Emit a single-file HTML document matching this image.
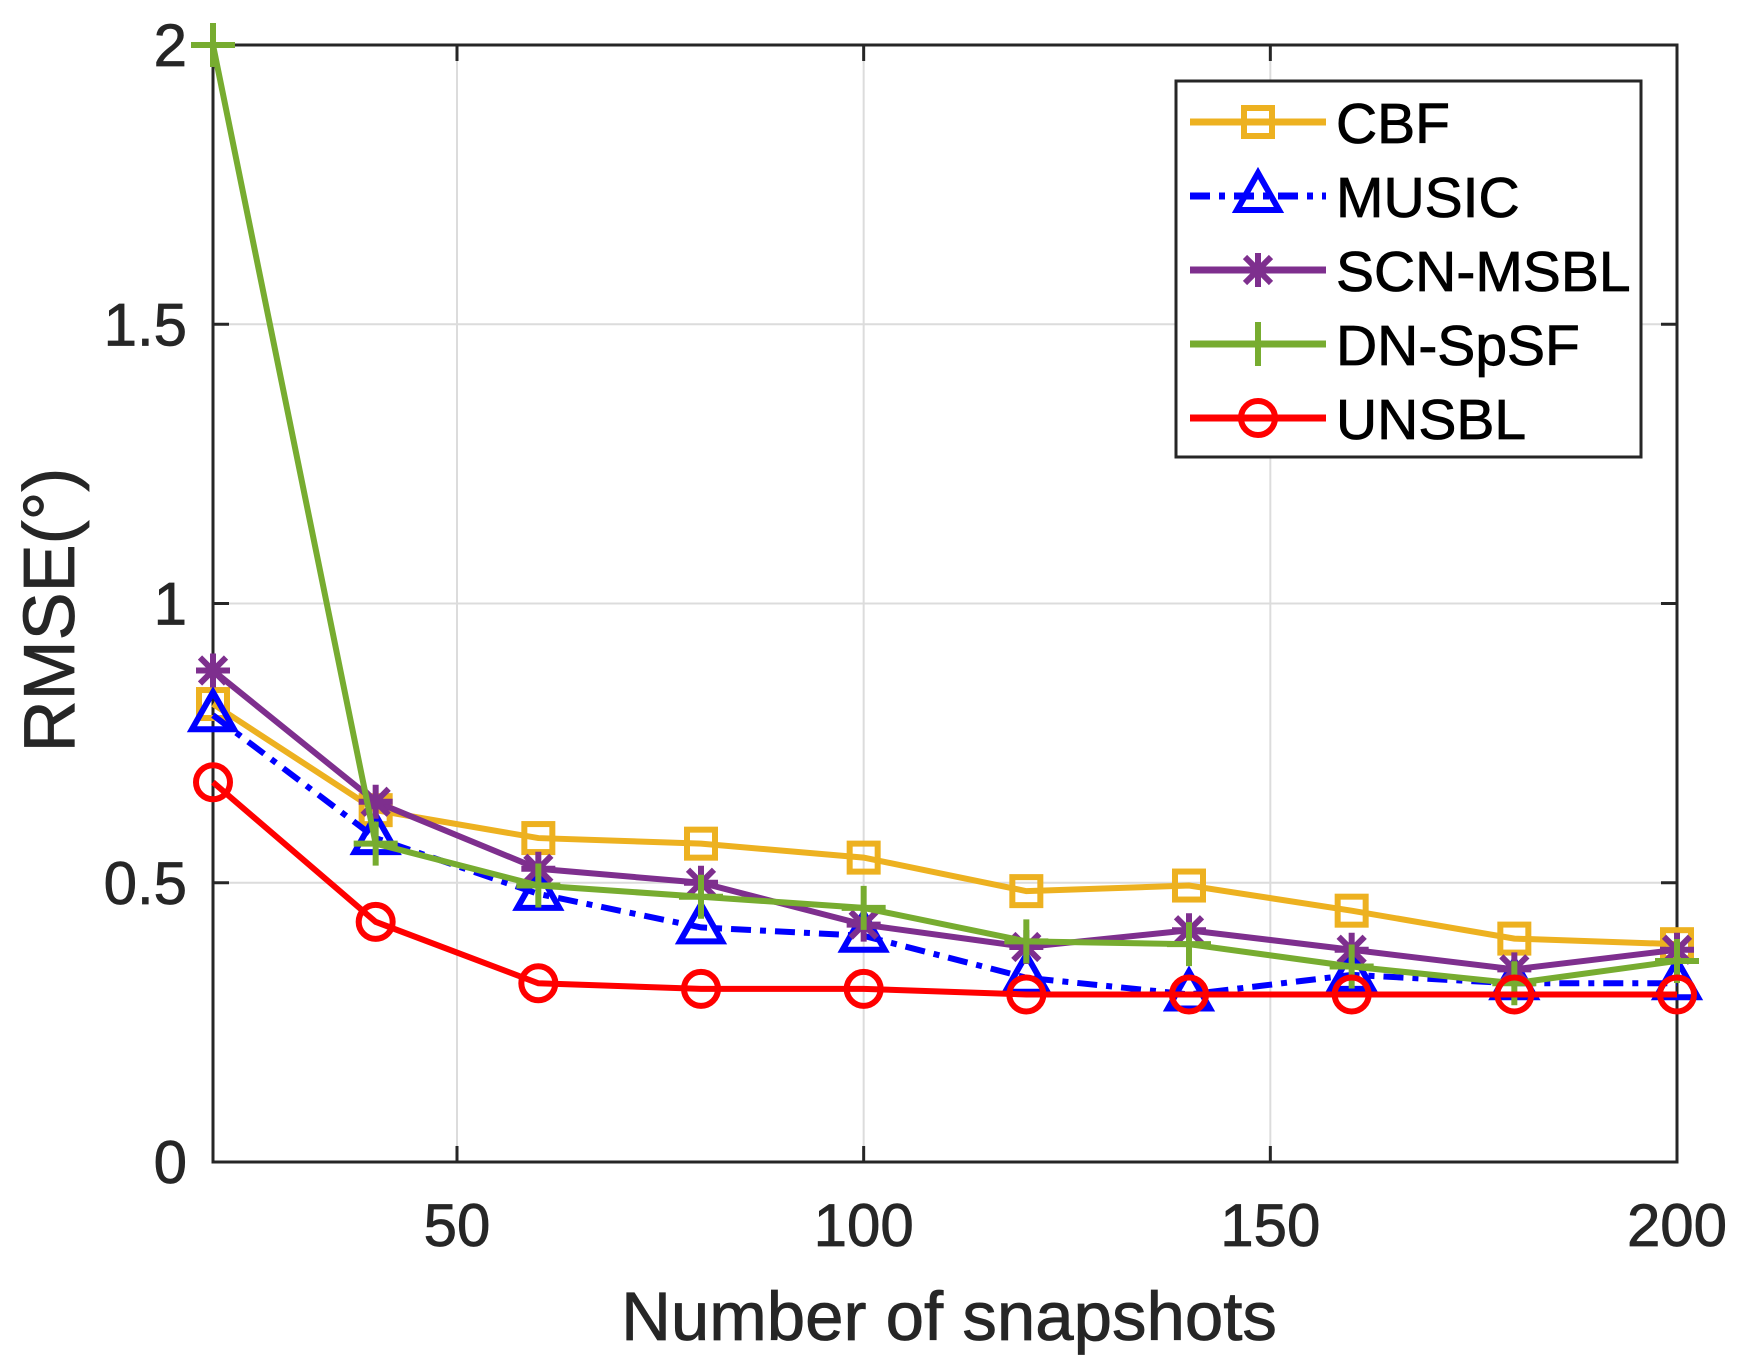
<!DOCTYPE html>
<html><head><meta charset="utf-8"><style>body{margin:0;background:#fff}svg{display:block}</style></head>
<body>
<svg width="1747" height="1364" xmlns="http://www.w3.org/2000/svg" font-family="Liberation Sans, Arial, sans-serif">
<rect width="1747" height="1364" fill="#fff"/>
<g id="plot"></g>
</svg>
<script>
const L=213,R=1677,T=45,B=1162;
const X=v=>L+(v-20)/180*(R-L), Y=v=>B-v/2*(B-T);
const s=document.getElementById('plot');let h='';
const TS='stroke="#262626" stroke-width="0.8"';
[50,100,150].forEach(v=>h+=`<line x1="${X(v)}" y1="${T}" x2="${X(v)}" y2="${B}" stroke="#dcdcdc" stroke-width="2"/>`);
[0.5,1,1.5].forEach(v=>h+=`<line x1="${L}" y1="${Y(v)}" x2="${R}" y2="${Y(v)}" stroke="#dcdcdc" stroke-width="2"/>`);
h+=`<rect x="${L}" y="${T}" width="${R-L}" height="${B-T}" fill="none" stroke="#262626" stroke-width="3"/>`;
[50,100,150,200].forEach(v=>{h+=`<line x1="${X(v)}" y1="${B}" x2="${X(v)}" y2="${B-16}" stroke="#262626" stroke-width="3"/><line x1="${X(v)}" y1="${T}" x2="${X(v)}" y2="${T+16}" stroke="#262626" stroke-width="3"/><text x="${X(v)}" y="1246" font-size="60" text-anchor="middle" fill="#262626" ${TS}>${v}</text>`});
[0,0.5,1,1.5,2].forEach(v=>{h+=`<line x1="${L}" y1="${Y(v)}" x2="${L+16}" y2="${Y(v)}" stroke="#262626" stroke-width="3"/><line x1="${R}" y1="${Y(v)}" x2="${R-16}" y2="${Y(v)}" stroke="#262626" stroke-width="3"/><text x="187" y="${Y(v)+21}" font-size="60" text-anchor="end" fill="#262626" ${TS}>${v}</text>`});
h+=`<text x="949" y="1340" font-size="69" text-anchor="middle" fill="#262626" ${TS}>Number of snapshots</text>`;
h+=`<text transform="translate(74,610) rotate(-90)" font-size="72" text-anchor="middle" fill="#262626" ${TS}>RMSE(°)</text>`;
const xs=[20,40,60,80,100,120,140,160,180,200];
const S=[
['CBF','#EDB120','',[0.82,0.63,0.58,0.57,0.545,0.485,0.495,0.45,0.40,0.39],'sq'],
['MUSIC','#0000FF','20 9 6 9',[0.80,0.58,0.48,0.42,0.405,0.33,0.30,0.335,0.32,0.32],'tri'],
['SCN-MSBL','#7E2F8E','',[0.88,0.645,0.525,0.50,0.425,0.385,0.415,0.38,0.345,0.38],'star'],
['DN-SpSF','#77AC30','',[2.0,0.57,0.495,0.475,0.455,0.395,0.39,0.35,0.32,0.36],'plus'],
['UNSBL','#FF0000','',[0.68,0.43,0.32,0.31,0.31,0.30,0.30,0.30,0.30,0.30],'circ']];
function mk(t,x,y,c){
 if(t=='sq')return `<rect x="${x-14}" y="${y-14}" width="28" height="28" fill="none" stroke="${c}" stroke-width="6"/>`;
 if(t=='tri')return `<polygon points="${x},${y-23} ${x+21},${y+14} ${x-21},${y+14}" fill="none" stroke="${c}" stroke-width="6"/>`;
 if(t=='circ')return `<circle cx="${x}" cy="${y}" r="17" fill="none" stroke="${c}" stroke-width="6"/>`;
 if(t=='plus')return `<path d="M${x-22} ${y}H${x+22}M${x} ${y-22}V${y+22}" stroke="${c}" stroke-width="6"/>`;
 return `<path d="M${x-17} ${y}H${x+17}M${x} ${y-17}V${y+17}M${x-13} ${y-13}L${x+13} ${y+13}M${x+13} ${y-13}L${x-13} ${y+13}" stroke="${c}" stroke-width="6"/>`;
}
S.forEach(([n,c,d,v,t])=>{
 h+=`<polyline points="${v.map((y,i)=>X(xs[i])+','+Y(y)).join(' ')}" fill="none" stroke="${c}" stroke-width="6" ${d?`stroke-dasharray="${d}"`:''}/>`;
 v.forEach((y,i)=>h+=mk(t,X(xs[i]),Y(y),c));
});
h+=`<rect x="1176" y="81" width="465" height="376" fill="#fff" stroke="#262626" stroke-width="3"/>`;
S.forEach(([n,c,d,v,t],i)=>{const y=122+i*74;
 h+=`<line x1="1190" y1="${y}" x2="1326" y2="${y}" stroke="${c}" stroke-width="7" ${d?`stroke-dasharray="${d}"`:''}/>`+mk(t,1258,y,c)+`<text x="1336" y="${y+21}" font-size="57" fill="#000" stroke="#000" stroke-width="0.8">${n}</text>`;
});
s.innerHTML=h;
</script>
</body></html>
